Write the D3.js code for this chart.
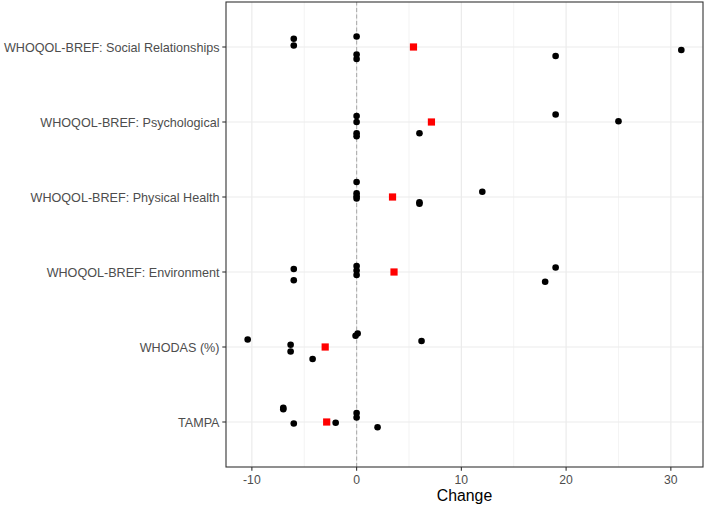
<!DOCTYPE html>
<html>
<head>
<meta charset="utf-8">
<script src="https://cdn.jsdelivr.net/npm/d3@7"></script>
<style>
  body { margin: 0; background: #fff; }
  text { font-family: "Liberation Sans", Arial, sans-serif; }
</style>
</head>
<body>
<div id="chart"></div>
<script>
// categories bottom to top
const categories = ["TAMPA", "WHODAS (%)", "WHOQOL-BREF: Environment",
    "WHOQOL-BREF: Physical Health", "WHOQOL-BREF: Psychological",
    "WHOQOL-BREF: Social Relationships"];

// individual changes per category, and the vertical jitter seen in the plot
const tampaChange = [-7, -7, -6, -2, 0, 0, 2];
const tampaJitter = [0.19, 0.17, -0.02, -0.01, 0.12, 0.06, -0.07];
const whodasChange = [-10.4, -6.3, -6.3, -4.2, -0.1, 0.1, 6.2];
const whodasJitter = [0.10, 0.03, -0.06, -0.16, 0.15, 0.18, 0.08];
const environmentChange = [-6, -6, 0, 0, 0, 19, 18];
const environmentJitter = [0.04, -0.11, 0.08, 0.02, -0.04, 0.06, -0.13];
const physicalChange = [0, 0, 0, 0, 6, 6, 12];
const physicalJitter = [0.20, 0.05, 0.01, -0.02, -0.07, -0.09, 0.07];
const psychChange = [0, 0, 0, 0, 6, 19, 25];
const psychJitter = [0.08, 0.0, -0.15, -0.19, -0.15, 0.10, 0.01];
const socialChange = [-6, -6, 0, 0, 0, 19, 31];
const socialJitter = [0.11, 0.02, 0.14, -0.10, -0.16, -0.12, -0.04];

const xTicks = [-10, 0, 10, 20, 30];
const xMinor = [-5, 5, 15, 25];

const changes = [tampaChange, whodasChange, environmentChange, physicalChange, psychChange, socialChange];
const jitters = [tampaJitter, whodasJitter, environmentJitter, physicalJitter, psychJitter, socialJitter];

const points = [];
changes.forEach((vals, i) => {
    vals.forEach((v, j) => points.push({cat: i + 1, x: v, y: i + 1 + jitters[i][j]}));
});
const means = changes.map((vals, i) => ({cat: i + 1, x: d3.mean(vals)}));

const width = 706, height = 505;
const margin = {left: 226, right: 3, top: 2, bottom: 38};

const svg = d3.select("#chart").append("svg")
    .attr("width", width)
    .attr("height", height);

const ext = d3.extent(points, d => d.x);
const pad = (ext[1] - ext[0]) * 0.05;
const x = d3.scaleLinear()
    .domain([ext[0] - pad, ext[1] + pad])
    .range([margin.left, width - margin.right]);
const y = d3.scaleLinear()
    .domain([0.4, categories.length + 0.6])
    .range([height - margin.bottom, margin.top]);

// grid
svg.selectAll(".minorX")
    .data(xMinor)
    .join("line")
    .attr("x1", d => x(d)).attr("x2", d => x(d))
    .attr("y1", y.range()[0]).attr("y2", y.range()[1])
    .style("stroke", "#EBEBEB")
    .style("stroke-width", "0.6px");
svg.selectAll(".majorX")
    .data(xTicks)
    .join("line")
    .attr("x1", d => x(d)).attr("x2", d => x(d))
    .attr("y1", y.range()[0]).attr("y2", y.range()[1])
    .style("stroke", "#EBEBEB")
    .style("stroke-width", "1.2px");
svg.selectAll(".majorY")
    .data(categories)
    .join("line")
    .attr("x1", x.range()[0]).attr("x2", x.range()[1])
    .attr("y1", (d, i) => y(i + 1)).attr("y2", (d, i) => y(i + 1))
    .style("stroke", "#EBEBEB")
    .style("stroke-width", "1.2px");

// zero line
svg.append("line")
    .attr("x1", x(0)).attr("x2", x(0))
    .attr("y1", y.range()[0]).attr("y2", y.range()[1])
    .style("stroke", "#AFAFAF")
    .style("stroke-width", "1.1px")
    .style("stroke-dasharray", "4,2.5");

// individual points
svg.selectAll(".pt")
    .data(points)
    .join("circle")
    .attr("cx", d => x(d.x))
    .attr("cy", d => y(d.y))
    .attr("r", 3.3)
    .style("fill", "#000");

// means
const sq = 7.2;
svg.selectAll(".meanPt")
    .data(means)
    .join("rect")
    .attr("x", d => x(d.x) - sq / 2)
    .attr("y", d => y(d.cat) - sq / 2)
    .attr("width", sq)
    .attr("height", sq)
    .style("fill", "#FF0000");

// panel border
svg.append("rect")
    .attr("x", x.range()[0]).attr("y", y.range()[1])
    .attr("width", x.range()[1] - x.range()[0])
    .attr("height", y.range()[0] - y.range()[1])
    .style("fill", "none")
    .style("stroke", "#333333")
    .style("stroke-width", "1.1px");

// x axis
svg.selectAll(".xTick")
    .data(xTicks)
    .join("line")
    .attr("x1", d => x(d)).attr("x2", d => x(d))
    .attr("y1", y.range()[0]).attr("y2", y.range()[0] + 3.7)
    .style("stroke", "#333333")
    .style("stroke-width", "1.1px");
svg.selectAll(".xLabel")
    .data(xTicks)
    .join("text")
    .attr("x", d => x(d))
    .attr("y", y.range()[0] + 16.5)
    .attr("text-anchor", "middle")
    .attr("font-size", "12.2px")
    .attr("fill", "#4D4D4D")
    .text(d => d);

// y axis
svg.selectAll(".yTick")
    .data(categories)
    .join("line")
    .attr("x1", x.range()[0] - 3.7).attr("x2", x.range()[0])
    .attr("y1", (d, i) => y(i + 1)).attr("y2", (d, i) => y(i + 1))
    .style("stroke", "#333333")
    .style("stroke-width", "1.1px");
svg.selectAll(".yLabel")
    .data(categories)
    .join("text")
    .attr("x", x.range()[0] - 6.5)
    .attr("y", (d, i) => y(i + 1) + 4.5)
    .attr("text-anchor", "end")
    .attr("font-size", "12.6px")
    .attr("fill", "#4D4D4D")
    .text(d => d);

// axis title
svg.append("text")
    .attr("x", (x.range()[0] + x.range()[1]) / 2)
    .attr("y", height - 4.5)
    .attr("text-anchor", "middle")
    .attr("font-size", "15.8px")
    .attr("fill", "#000")
    .text("Change");
</script>
</body>
</html>
